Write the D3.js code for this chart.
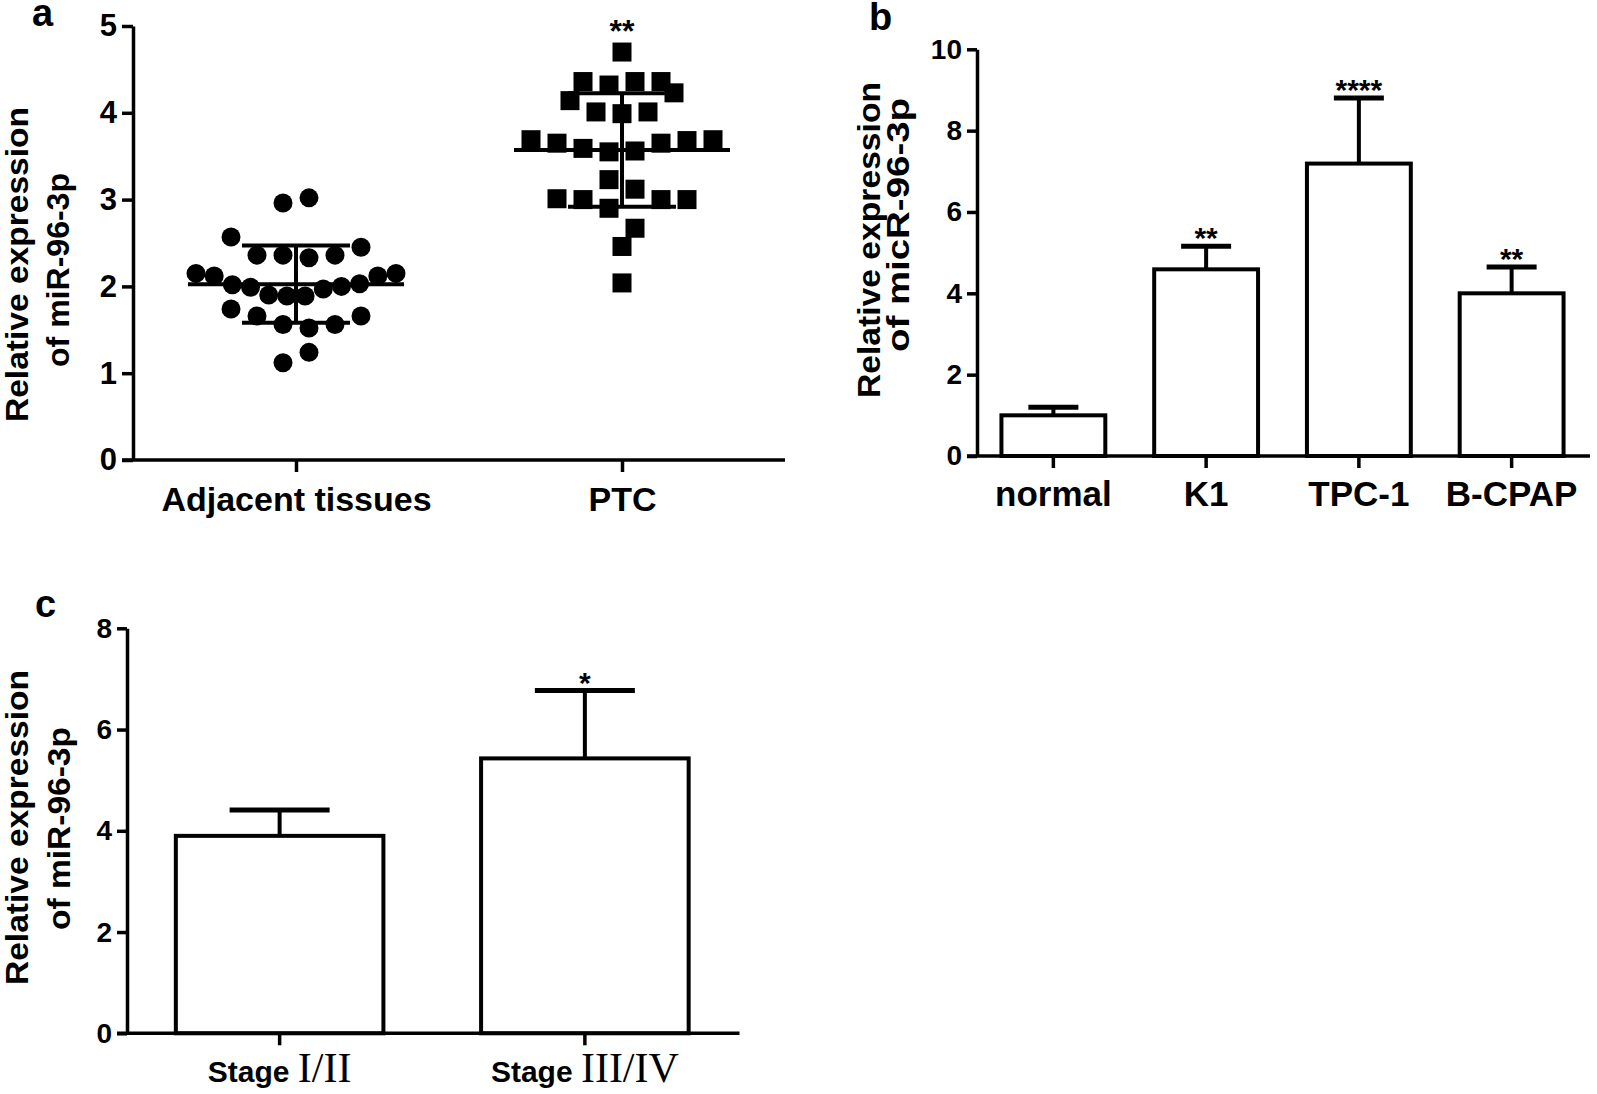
<!DOCTYPE html>
<html>
<head>
<meta charset="utf-8">
<script src="https://cdn.jsdelivr.net/npm/d3@7"></script>
<style>
  body { margin: 0; background: #fff; }
  svg text { font-family: "Liberation Sans", Arial, sans-serif; font-weight: bold; fill: #000; }
</style>
</head>
<body>
<div id="main"></div>
<script>
// panel a - scatter, values listed row by row (top to bottom, left to right)
const scatterGroups = ["Adjacent tissues", "PTC"];
const adjacentValues = [
  2.96, 3.02,
  2.57, 2.36, 2.36, 2.33, 2.36, 2.45,
  2.15, 2.12, 2.02, 1.99, 1.90, 1.89, 1.89, 1.97, 2.00, 2.03, 2.12, 2.15,
  1.74, 1.66, 1.56, 1.52, 1.56, 1.66,
  1.12, 1.24
];
const ptcValues = [
  4.70,
  4.36, 4.32, 4.36, 4.36,
  4.14, 4.01, 3.99, 4.01, 4.23,
  3.69, 3.65, 3.59, 3.55, 3.56, 3.65, 3.68, 3.69,
  3.23, 3.12,
  3.01, 3.00, 2.90, 2.67, 3.00, 3.00,
  2.46,
  2.04
];
const scatterTicks = [0, 1, 2, 3, 4, 5];
const scatterStars = ["", "**"];

// panel b - cell lines
const cellLines = ["normal", "K1", "TPC-1", "B-CPAP"];
const cellMeans = [1.0, 4.59, 7.19, 4.0];
const cellSD = [0.2, 0.57, 1.61, 0.65];
const cellStars = ["", "**", "****", "**"];
const cellTicks = [0, 2, 4, 6, 8, 10];

// panel c - stages
const stageWords = ["Stage", "Stage"];
const stageRoman = ["I/II", "III/IV"];
const stageMeans = [3.90, 5.43];
const stageSD = [0.51, 1.34];
const stageStars = ["", "*"];
const stageTicks = [0, 2, 4, 6, 8];

const svg = d3.select("#main")
  .append("svg")
  .attr("width", 1597)
  .attr("height", 1094);

function styleAxis(sel, fontSize) {
  sel.selectAll("path, line").attr("stroke", "#000").attr("stroke-width", 3.5);
  sel.selectAll("text").attr("font-size", fontSize);
}

function yLabel(lines) {
  lines.forEach(l => {
    svg.append("text")
      .attr("transform", `translate(${l.x},${l.y}) rotate(-90)`)
      .attr("text-anchor", "middle")
      .attr("font-size", 31)
      .attr("textLength", l.len)
      .attr("lengthAdjust", "spacingAndGlyphs")
      .text(l.text);
  });
}

function panelLetter(t, x, y) {
  svg.append("text").attr("x", x).attr("y", y).attr("font-size", 38).text(t);
}

// spread each row of close values symmetrically around the group centre
function swarm(values) {
  const rows = d3.groups(values, v => Math.floor((v - 0.25) / 0.4));
  const out = [];
  rows.forEach(([, vs]) => {
    const n = vs.length;
    const step = n > 1 ? Math.min(26, 200 / (n - 1)) : 0;
    vs.forEach((v, k) => out.push({ v, dx: (k - (n - 1) / 2) * step }));
  });
  return out;
}

class DotPlot {
  constructor(config) {
    this.config = config;
    this.g = svg.append("g");
  }

  createScales() {
    const c = this.config;
    this.x = d3.scalePoint().domain(c.groups).range([c.left, c.right]).padding(0.5);
    this.y = d3.scaleLinear().domain([0, 5]).range([c.bottom, c.top]);
  }

  createAxis() {
    const c = this.config;
    this.g.append("g")
      .attr("transform", `translate(${c.left},0)`)
      .call(d3.axisLeft(this.y).tickValues(c.ticks).tickFormat(d3.format("d"))
        .tickSize(11).tickPadding(5).tickSizeOuter(0))
      .call(a => styleAxis(a, 31));

    const xa = this.g.append("g")
      .attr("transform", `translate(0,${c.bottom})`)
      .call(d3.axisBottom(this.x).tickSize(12).tickSizeOuter(0))
      .call(a => styleAxis(a, 34));
    xa.select(".domain").remove();
    xa.selectAll("text").attr("y", 51).attr("dy", null);
    xa.append("line")
      .attr("x1", c.left - 11).attr("x2", c.right)
      .attr("stroke", "#000").attr("stroke-width", 3.5);
  }

  render() {
    const c = this.config;
    c.series.forEach((vals, i) => {
      const cx = this.x(c.groups[i]);
      const pts = swarm(vals);
      if (i === 0) {
        this.g.selectAll(".dot")
          .data(pts).join("circle")
          .attr("cx", d => cx + d.dx)
          .attr("cy", d => this.y(d.v))
          .attr("r", 9.5);
      } else {
        this.g.selectAll(".sq")
          .data(pts).join("rect")
          .attr("x", d => cx + d.dx - 9.5)
          .attr("y", d => this.y(d.v) - 9.5)
          .attr("width", 19).attr("height", 19);
      }

      const m = d3.mean(vals), sd = d3.deviation(vals);
      const ln = (x1, x2, y1, y2) => this.g.append("line")
        .attr("x1", x1).attr("x2", x2).attr("y1", y1).attr("y2", y2)
        .attr("stroke", "#000").attr("stroke-width", 4);
      ln(cx - 108, cx + 108, this.y(m), this.y(m));
      ln(cx - 54, cx + 54, this.y(m + sd), this.y(m + sd));
      ln(cx - 54, cx + 54, this.y(m - sd), this.y(m - sd));
      ln(cx, cx, this.y(m + sd), this.y(m - sd));

      if (c.stars[i]) {
        this.g.append("text")
          .attr("x", cx).attr("y", this.y(d3.max(vals)) - 10)
          .attr("text-anchor", "middle").attr("font-size", 32)
          .text(c.stars[i]);
      }
    });
  }
}

class BarPlot {
  constructor(config) {
    this.config = config;
    this.g = svg.append("g");
  }

  createScales() {
    const c = this.config;
    this.x = d3.scaleBand().domain(d3.range(c.means.length))
      .range([c.left, c.right]).paddingInner(0.32).paddingOuter(0.16);
    this.y = d3.scaleLinear().domain(c.domain).range([c.bottom, c.top]);
  }

  render() {
    const c = this.config;
    const bw = this.x.bandwidth();
    const data = c.means.map((m, i) => ({ i, m, sd: c.sd[i], star: c.stars[i] }));

    this.g.selectAll(".err")
      .data(data).join("line")
      .attr("x1", d => this.x(d.i) + bw / 2).attr("x2", d => this.x(d.i) + bw / 2)
      .attr("y1", d => this.y(d.m)).attr("y2", d => this.y(d.m + d.sd))
      .attr("stroke", "#000").attr("stroke-width", 4);
    this.g.selectAll(".cap")
      .data(data).join("line")
      .attr("x1", d => this.x(d.i) + bw / 2 - c.cap).attr("x2", d => this.x(d.i) + bw / 2 + c.cap)
      .attr("y1", d => this.y(d.m + d.sd)).attr("y2", d => this.y(d.m + d.sd))
      .attr("stroke", "#000").attr("stroke-width", 5);
    this.g.selectAll(".bar")
      .data(data).join("rect")
      .attr("x", d => this.x(d.i))
      .attr("y", d => this.y(d.m))
      .attr("width", bw)
      .attr("height", d => this.y(0) - this.y(d.m))
      .attr("fill", "#fff").attr("stroke", "#000").attr("stroke-width", 4);
    this.g.selectAll(".star")
      .data(data.filter(d => d.star)).join("text")
      .attr("x", d => this.x(d.i) + bw / 2)
      .attr("y", d => this.y(d.m + d.sd) + 2)
      .attr("text-anchor", "middle").attr("font-size", 30)
      .text(d => d.star);
  }

  createAxis() {
    const c = this.config;
    this.g.append("g")
      .attr("transform", `translate(${c.left},0)`)
      .call(d3.axisLeft(this.y).tickValues(c.ticks).tickSize(10).tickPadding(5).tickSizeOuter(0))
      .call(a => styleAxis(a, 28));

    const xa = this.g.append("g")
      .attr("transform", `translate(0,${c.bottom})`)
      .call(d3.axisBottom(this.x).tickSize(12).tickSizeOuter(0).tickFormat(() => ""))
      .call(a => styleAxis(a, 34));
    xa.select(".domain").remove();
    xa.append("line")
      .attr("x1", c.left - 10).attr("x2", c.right + 2)
      .attr("stroke", "#000").attr("stroke-width", 3.5);

    const bw = this.x.bandwidth();
    const labels = xa.selectAll(".lab")
      .data(d3.range(c.means.length)).join("text")
      .attr("x", i => this.x(i) + bw / 2)
      .attr("y", c.labelY)
      .attr("text-anchor", "middle");
    c.labelFn(labels);
  }
}

// ---- panel a ----
panelLetter("a", 32, 26);
const dots = new DotPlot({
  groups: scatterGroups, series: [adjacentValues, ptcValues], stars: scatterStars,
  ticks: scatterTicks, left: 133, right: 785, top: 26, bottom: 460
});
dots.createScales();
dots.createAxis();
dots.render();
yLabel([
  { text: "Relative expression", x: 28, y: 264.5, len: 315 },
  { text: "of  miR-96-3p", x: 69, y: 270, len: 194 }
]);

// ---- panel b ----
panelLetter("b", 869, 30);
const bars = new BarPlot({
  means: cellMeans, sd: cellSD, stars: cellStars, ticks: cellTicks, domain: [0, 10],
  left: 977, right: 1588, top: 49.3, bottom: 456, cap: 25, labelY: 50,
  labelFn: sel => sel.attr("font-size", 35).text(i => cellLines[i])
});
bars.createScales();
bars.render();
bars.createAxis();
yLabel([
  { text: "Relative expression", x: 880, y: 240, len: 316 },
  { text: "of  micR-96-3p", x: 909, y: 225, len: 254 }
]);

// ---- panel c ----
panelLetter("c", 35, 617);
const stages = new BarPlot({
  means: stageMeans, sd: stageSD, stars: stageStars, ticks: stageTicks, domain: [0, 8],
  left: 127, right: 737.5, top: 628.3, bottom: 1033.3, cap: 50, labelY: 49,
  labelFn: sel => {
    sel.append("tspan").attr("font-size", 30).text(i => stageWords[i] + " ");
    sel.append("tspan")
      .attr("font-size", 42)
      .style("font-family", '"Liberation Serif", "Times New Roman", serif')
      .style("font-weight", "normal")
      .text(i => stageRoman[i]);
  }
});
stages.createScales();
stages.render();
stages.createAxis();
yLabel([
  { text: "Relative expression", x: 28, y: 827.5, len: 315 },
  { text: "of  miR-96-3p", x: 70, y: 828.5, len: 203 }
]);
</script>
</body>
</html>
